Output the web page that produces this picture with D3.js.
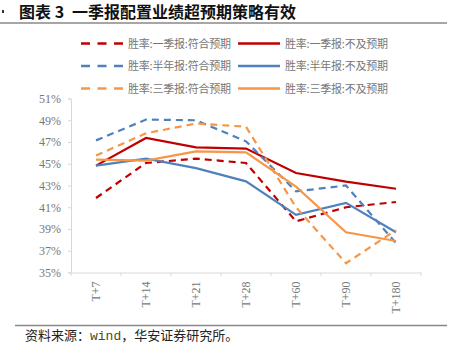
<!DOCTYPE html>
<html><head><meta charset="utf-8">
<script src="https://cdn.jsdelivr.net/npm/d3@7/dist/d3.min.js"></script>
<style>body{margin:0;background:#fff}svg{display:block}</style>
</head><body>
<svg id="c" width="457" height="357"></svg>
<script>
const categories = ["T+7","T+14","T+21","T+28","T+60","T+90","T+180"];
const q1Meet = [41.85, 45.07, 45.47, 45.07, 39.7, 41.0, 41.48];
const q1Miss = [44.83, 47.37, 46.5, 46.39, 44.15, 43.35, 42.7];
const h1Meet = [47.15, 49.06, 49.0, 47.06, 42.46, 43.0, 37.7];
const h1Miss = [44.83, 45.47, 44.6, 43.38, 40.3, 41.4, 38.7];
const q3Meet = [45.75, 47.8, 48.7, 48.4, 41.0, 35.85, 38.9];
const q3Miss = [45.38, 45.29, 46.14, 46.05, 42.9, 38.7, 37.9];
const yTicks = [35,37,39,41,43,45,47,49,51];
const seriesNames = ["胜率:一季报:符合预期","胜率:一季报:不及预期","胜率:半年报:符合预期","胜率:半年报:不及预期","胜率:三季报:符合预期","胜率:三季报:不及预期"];
const titleLabel = "图表 3";
const titleMain = "一季报配置业绩超预期策略有效";
const sourcePre = "资料来源：";
const sourceMid = "wind";
const sourcePost = "，华安证券研究所。";

const series = [
  {name: seriesNames[0], values: q1Meet, color: "#C00000", dash: true},
  {name: seriesNames[1], values: q1Miss, color: "#C00000", dash: false},
  {name: seriesNames[2], values: h1Meet, color: "#4F81BD", dash: true},
  {name: seriesNames[3], values: h1Miss, color: "#4F81BD", dash: false},
  {name: seriesNames[4], values: q3Meet, color: "#F79646", dash: true},
  {name: seriesNames[5], values: q3Miss, color: "#F79646", dash: false}
];

const svg = d3.select("#c");
const x = d3.scaleBand().domain(categories).range([71, 421]);
const y = d3.scaleLinear().domain([35, 51]).range([272.5, 98.5]);

// header
svg.append("rect").attr("x",2).attr("y",10).attr("width",2).attr("height",3).attr("fill","#333");
const t = svg.append("text").attr("y",18).attr("font-family","'Noto Sans CJK SC'").attr("font-weight","bold")
  .attr("font-size",16).attr("fill","#111");
t.append("tspan").attr("x",19).text(titleLabel);
t.append("tspan").attr("x",72).text(titleMain);
svg.append("line").attr("x1",0).attr("x2",447).attr("y1",23).attr("y2",23).attr("stroke","#888").attr("stroke-width",1.5);

// axes
const yAxis = svg.append("g").attr("transform","translate(71,0)")
  .call(d3.axisLeft(y).tickValues(yTicks).tickSize(3).tickFormat(d=>d+"%"));
yAxis.select(".domain").attr("stroke","#d9d9d9");
yAxis.selectAll(".tick line").attr("stroke","#d9d9d9");
yAxis.selectAll(".tick text").attr("font-family","'Liberation Serif'").attr("font-size",12).attr("fill","#777").attr("x",-10);

const xAxis = svg.append("g").attr("transform","translate(0,272.5)")
  .call(d3.axisBottom(x).tickSize(0));
xAxis.select(".domain").attr("stroke","#d9d9d9");
xAxis.selectAll(".tick text").attr("font-family","'Liberation Serif'").attr("font-size",12).attr("fill","#777")
  .attr("transform","rotate(-90)").attr("text-anchor","end").attr("dy","0.35em").attr("y",0).attr("x",-9);
const bounds = categories.map(c=>x(c)).concat([x(categories[categories.length-1])+x.bandwidth()]);
svg.append("g").selectAll("line").data(bounds).join("line")
  .attr("x1",d=>d).attr("x2",d=>d).attr("y1",272.5).attr("y2",276).attr("stroke","#d9d9d9");

// lines
const line = d3.line().x((d,i)=>x(categories[i])+x.bandwidth()/2).y(d=>y(d));
svg.append("g").selectAll("path").data(series).join("path")
  .attr("d",d=>line(d.values)).attr("fill","none").attr("stroke",d=>d.color)
  .attr("stroke-width",2.2).attr("stroke-dasharray",d=>d.dash?"7,5":null);

// legend
const leg = svg.append("g");
series.forEach((s,i)=>{
  const row = Math.floor(i/2), col = i%2;
  const ly = 43.5 + row*22.5;
  const lx = col===0 ? 81 : 238;
  leg.append("line").attr("x1",lx).attr("x2",lx+42).attr("y1",ly).attr("y2",ly)
    .attr("stroke",s.color).attr("stroke-width",2.4).attr("stroke-dasharray",s.dash?"9,7.5":null);
  leg.append("text").attr("x",lx+47).attr("y",ly+4).attr("font-family","'Noto Sans CJK SC'")
    .attr("font-size",11).attr("fill","#777").attr("textLength",103).attr("lengthAdjust","spacing").text(s.name);
});

// footer
svg.append("line").attr("x1",15).attr("x2",447).attr("y1",325.5).attr("y2",325.5).attr("stroke","#888").attr("stroke-width",1.5);
const f = svg.append("text").attr("x",25).attr("y",340).attr("font-family","'Noto Sans CJK SC'")
  .attr("font-size",13).attr("fill","#222");
f.append("tspan").text(sourcePre);
f.append("tspan").attr("font-family","'Liberation Mono'").attr("fill","#4a4a20").text(sourceMid);
f.append("tspan").text(sourcePost);
</script>
</body></html>
